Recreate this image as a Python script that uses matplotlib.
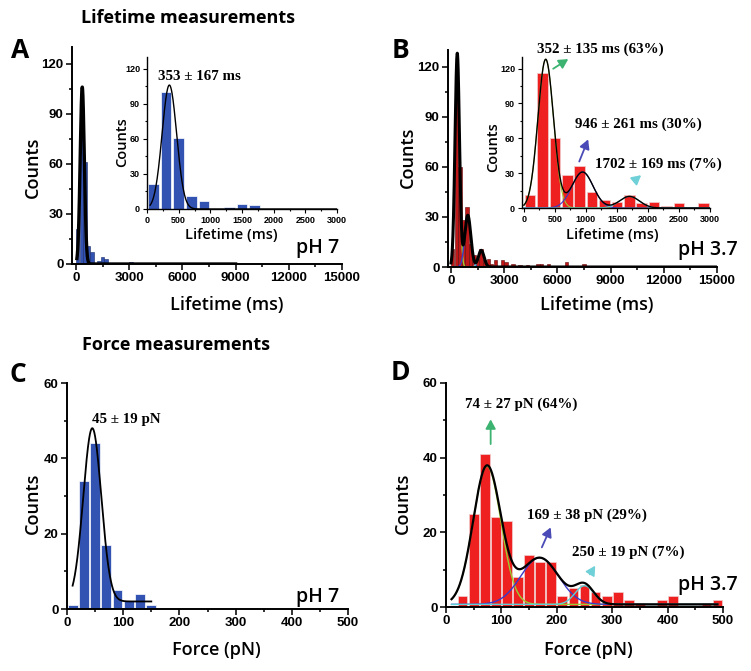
import numpy as np
import matplotlib
matplotlib.use("Agg")
import matplotlib.pyplot as plt
from matplotlib.ticker import MultipleLocator

W, H = 751, 671

# ---------------- data ----------------
# Panel A (pH 7 lifetime), 200 ms bins: bin start, counts
a_bin_start = [0, 200, 400, 600, 800, 1200, 1400, 1600, 3000]
a_counts = [21, 100, 61, 11, 7, 2, 4, 3, 1]
# Panel B (pH 3.7 lifetime), 200 ms bins
b_bin_start = [0, 200, 400, 600, 800, 1000, 1200, 1400, 1600, 1800, 2000, 2200, 2400, 2800,
               3000, 3400, 3800, 4200, 4800, 5000, 5400, 6400, 7400]
b_counts = [11, 116, 60, 28, 36, 14, 7, 5, 11, 4, 5, 2, 4, 4,
            3, 2, 1, 1, 2, 2, 2, 3, 2]
# Panel C (pH 7 force), 20 pN bins
c_bin_start = [0, 20, 40, 60, 80, 100, 120, 140]
c_counts = [1, 34, 44, 17, 5, 2, 4, 1]
# Panel D (pH 3.7 force), 20 pN bins
d_bin_start = [20, 40, 60, 80, 100, 120, 140, 160, 180, 200, 220, 240, 260, 280, 300,
               320, 340, 380, 400, 460, 480]
d_counts = [3, 25, 41, 24, 23, 8, 14, 12, 12, 3, 5, 6, 4, 3, 4,
            2, 1, 2, 3, 1, 2]

# Gaussian fit parameters (centre, sigma, amplitude), baseline, range
a_fit_center = [353]
a_fit_sigma = [115]
a_fit_amp = [106]
a_fit_base = 0.0
a_fit_range = [50, 9000]

b_fit_center = [352, 946, 1702]
b_fit_sigma = [125, 170, 160]
b_fit_amp = [128, 31, 10]
b_fit_base = 0.0
b_fit_range = [0, 15000]

c_fit_center = [45]
c_fit_sigma = [16]
c_fit_amp = [46]
c_fit_base = 2.0
c_fit_range = [10, 150]

d_fit_center = [74, 169, 250]
d_fit_sigma = [25, 34, 17]
d_fit_amp = [37, 12.5, 5]
d_fit_base = 0.7
d_fit_range = [10, 490]

a_label = "353 ± 167 ms"
b_labels = ["352 ± 135 ms (63%)", "946 ± 261 ms (30%)", "1702 ± 169 ms (7%)"]
c_label = "45 ± 19 pN"
d_labels = ["74 ± 27 pN (64%)", "169 ± 38 pN (29%)", "250 ± 19 pN (7%)"]

BLUE = "#3353b3"
RED = "#ee2020"
COMP_COLORS = ["#9acd32", "#3a3ac8", "#5fd0d8"]
ARROW_COLORS = ["#3cb371", "#4b4bb8", "#6fd0d8"]

TICKFONT = "Liberation Sans"
LABELFONT = "Open Sans"
SERIF = "Liberation Serif"
ANN_SIZE = 10.8


def gauss(x, c, s, a):
    return a * np.exp(-(x - c) ** 2 / (2.0 * s ** 2))


def fit_curves(centers, sigmas, amps, base, rng, n=3000):
    x = np.linspace(rng[0], rng[1], n)
    comps = [base + gauss(x, c, s, a) for c, s, a in zip(centers, sigmas, amps)]
    total = base + sum(gauss(x, c, s, a) for c, s, a in zip(centers, sigmas, amps))
    return x, comps, total


def px_axes(fig, l, t, r, b):
    return fig.add_axes([l / W, 1 - b / H, (r - l) / W, (b - t) / H])


def style(ax, size, lw=1.4, major_len=4, minor_len=2):
    for s in ["top", "right"]:
        ax.spines[s].set_visible(False)
    for s in ["left", "bottom"]:
        ax.spines[s].set_linewidth(lw)
    ax.tick_params(which="both", direction="out", width=lw * 0.8)
    ax.tick_params(which="major", length=major_len, labelsize=size, pad=2)
    ax.tick_params(which="minor", length=minor_len)
    for lab in ax.get_xticklabels() + ax.get_yticklabels():
        lab.set_fontfamily(TICKFONT)
        lab.set_fontweight("bold")


def set_labels(ax, xl, yl, xpos, ypos, size, fig):
    ax.set_xlabel(xl, fontsize=size, family=LABELFONT, fontweight="semibold")
    ax.set_ylabel(yl, fontsize=size, family=LABELFONT, fontweight="semibold")
    ax.xaxis.set_label_coords(xpos[0] / W, 1 - xpos[1] / H, transform=fig.transFigure)
    ax.yaxis.set_label_coords(ypos[0] / W, 1 - ypos[1] / H, transform=fig.transFigure)
    ax.xaxis.label.set_va("center")
    ax.yaxis.label.set_va("center")


def ftext(fig, x, y, s, **kw):
    fig.text(x / W, 1 - y / H, s, ha="center", va="center", **kw)


fig = plt.figure(figsize=(W / 100, H / 100), dpi=100)
fig.patch.set_facecolor("white")

# ================= Panel A =================
axA = px_axes(fig, 72, 47, 342, 264)
x, comps, tot = fit_curves(a_fit_center, a_fit_sigma, a_fit_amp, a_fit_base, a_fit_range)
axA.bar(np.array(a_bin_start) + 100, a_counts, width=190, color=BLUE, edgecolor="#1a2a6a", linewidth=0.4)
axA.plot(x, tot, color="black", lw=2.4)
axA.set_xlim(-225, 15000)
axA.set_ylim(0, 130)
axA.xaxis.set_major_locator(MultipleLocator(3000))
axA.xaxis.set_minor_locator(MultipleLocator(1500))
axA.yaxis.set_major_locator(MultipleLocator(30))
axA.yaxis.set_minor_locator(MultipleLocator(15))
style(axA, 9.5)
set_labels(axA, "Lifetime (ms)", "Counts", (227, 305), (33, 167), 13, fig)

# inset A
axAi = px_axes(fig, 147, 57, 337, 209)
axAi.bar(np.array(a_bin_start) + 100, a_counts, width=172, color=BLUE, edgecolor="white", linewidth=0.5)
axAi.plot(x, tot, color="black", lw=1.0)
axAi.set_xlim(0, 3000)
axAi.set_ylim(0, 130)
axAi.xaxis.set_major_locator(MultipleLocator(500))
axAi.xaxis.set_minor_locator(MultipleLocator(250))
axAi.yaxis.set_major_locator(MultipleLocator(30))
axAi.yaxis.set_minor_locator(MultipleLocator(15))
axAi.patch.set_alpha(0)
style(axAi, 6.5, lw=1.0, major_len=3, minor_len=1.5)
set_labels(axAi, "Lifetime (ms)", "Counts", (231, 235), (122, 142), 10.5, fig)
axAi.text(821, 113, a_label, ha="center", va="center", family=SERIF, fontweight="bold",
          fontsize=ANN_SIZE, clip_on=False)

# ================= Panel B =================
axB = px_axes(fig, 448, 50, 717, 267)
x, comps, tot = fit_curves(b_fit_center, b_fit_sigma, b_fit_amp, b_fit_base, b_fit_range, n=6000)
axB.bar(np.array(b_bin_start) + 100, b_counts, width=190, color="#c01818", edgecolor="#5a0a0a", linewidth=0.4)
for cmp, col in zip(comps, COMP_COLORS):
    axB.plot(x, cmp, color=col, lw=1.0)
axB.plot(x, tot, color="black", lw=2.2)
axB.set_xlim(-170, 15000)
axB.set_ylim(0, 130)
axB.xaxis.set_major_locator(MultipleLocator(3000))
axB.xaxis.set_minor_locator(MultipleLocator(1500))
axB.yaxis.set_major_locator(MultipleLocator(30))
axB.yaxis.set_minor_locator(MultipleLocator(15))
style(axB, 9.5)
set_labels(axB, "Lifetime (ms)", "Counts", (597, 305), (408, 157), 13, fig)

# inset B
axBi = px_axes(fig, 522, 57, 710, 208)
axBi.bar(np.array(b_bin_start) + 100, b_counts, width=172, color=RED, edgecolor="#f3d0d0", linewidth=0.5)
for cmp, col in zip(comps, COMP_COLORS):
    axBi.plot(x, cmp, color=col, lw=0.8)
axBi.plot(x, tot, color="black", lw=1.0)
axBi.set_xlim(-30, 3000)
axBi.set_ylim(0, 130)
axBi.xaxis.set_major_locator(MultipleLocator(500))
axBi.xaxis.set_minor_locator(MultipleLocator(250))
axBi.yaxis.set_major_locator(MultipleLocator(30))
axBi.yaxis.set_minor_locator(MultipleLocator(15))
axBi.patch.set_alpha(0)
style(axBi, 6.5, lw=1.0, major_len=3, minor_len=1.5)
set_labels(axBi, "Lifetime (ms)", "Counts", (612, 235), (493, 147), 10.5, fig)
b_text_xy = [(1226, 137), (1844, 72), (2167, 37.8)]
b_arrows = [((435, 118.6), (753, 129.5)), ((876, 37.8), (1053, 61.3)), ((1763, 22.6), (1925, 29.8))]
for lab, (tx, ty), (tail, head), col in zip(b_labels, b_text_xy, b_arrows, ARROW_COLORS):
    axBi.text(tx, ty, lab, ha="center", va="center", family=SERIF, fontweight="bold",
              fontsize=ANN_SIZE, clip_on=False)
    axBi.annotate("", xy=head, xytext=tail,
                  arrowprops=dict(arrowstyle="-|>,head_width=0.3,head_length=0.55", color=col, lw=1.3),
                  annotation_clip=False)

# ================= Panel C =================
axC = px_axes(fig, 67, 383, 348, 609)
x, comps, tot = fit_curves(c_fit_center, c_fit_sigma, c_fit_amp, c_fit_base, c_fit_range)
axC.bar(np.array(c_bin_start) + 10, c_counts, width=17.5, color=BLUE, edgecolor="white", linewidth=0.5)
axC.plot(x, tot, color="black", lw=1.3)
axC.set_xlim(0, 500)
axC.set_ylim(0, 60)
axC.xaxis.set_major_locator(MultipleLocator(100))
axC.xaxis.set_minor_locator(MultipleLocator(50))
axC.yaxis.set_major_locator(MultipleLocator(20))
axC.yaxis.set_minor_locator(MultipleLocator(10))
style(axC, 9.5)
set_labels(axC, "Force (pN)", "Counts", (216, 650), (33, 503), 13, fig)
axC.text(106, 50.4, c_label, ha="center", va="center", family=SERIF, fontweight="bold", fontsize=ANN_SIZE)

# ================= Panel D =================
axD = px_axes(fig, 446, 383, 723, 607)
x, comps, tot = fit_curves(d_fit_center, d_fit_sigma, d_fit_amp, d_fit_base, d_fit_range)
axD.bar(np.array(d_bin_start) + 10, d_counts, width=17.5, color=RED, edgecolor="#f3d0d0", linewidth=0.5)
for cmp, col in zip(comps, COMP_COLORS):
    axD.plot(x, cmp, color=col, lw=1.0)
axD.plot(x, tot, color="black", lw=1.6)
axD.set_xlim(0, 500)
axD.set_ylim(0, 60)
axD.xaxis.set_major_locator(MultipleLocator(100))
axD.xaxis.set_minor_locator(MultipleLocator(50))
axD.yaxis.set_major_locator(MultipleLocator(20))
axD.yaxis.set_minor_locator(MultipleLocator(10))
style(axD, 9.5)
set_labels(axD, "Force (pN)", "Counts", (588, 650), (403, 503), 13, fig)
d_text_xy = [(135, 54.4), (254, 24.6), (329, 14.7)]
d_arrows = [((80.6, 42.9), (80.6, 51.0)), ((171, 15.3), (191, 22.0)), ((257, 8.1), (272, 11.7))]
for lab, (tx, ty), (tail, head), col in zip(d_labels, d_text_xy, d_arrows, ARROW_COLORS):
    axD.text(tx, ty, lab, ha="center", va="center", family=SERIF, fontweight="bold",
             fontsize=ANN_SIZE, clip_on=False)
    axD.annotate("", xy=head, xytext=tail,
                 arrowprops=dict(arrowstyle="-|>,head_width=0.3,head_length=0.55", color=col, lw=1.3),
                 annotation_clip=False)

# ---------------- figure texts ----------------
ftext(fig, 188, 18, "Lifetime measurements", family=LABELFONT, fontweight="bold", fontsize=13)
ftext(fig, 176, 345, "Force measurements", family=LABELFONT, fontweight="bold", fontsize=13)
for lab, (px, py) in zip(["A", "B", "C", "D"], [(20, 50), (400, 50), (18, 375), (400, 373)]):
    ftext(fig, px, py, lab, family=LABELFONT, fontweight="bold", fontsize=19)
for lab, (px, py) in zip(["pH 7", "pH 3.7", "pH 7", "pH 3.7"],
                         [(318, 248), (708, 250), (318, 597), (708, 585)]):
    ftext(fig, px, py, lab, family=LABELFONT, fontweight="semibold", fontsize=14)

fig.savefig("out.png", dpi=100, facecolor="white")
